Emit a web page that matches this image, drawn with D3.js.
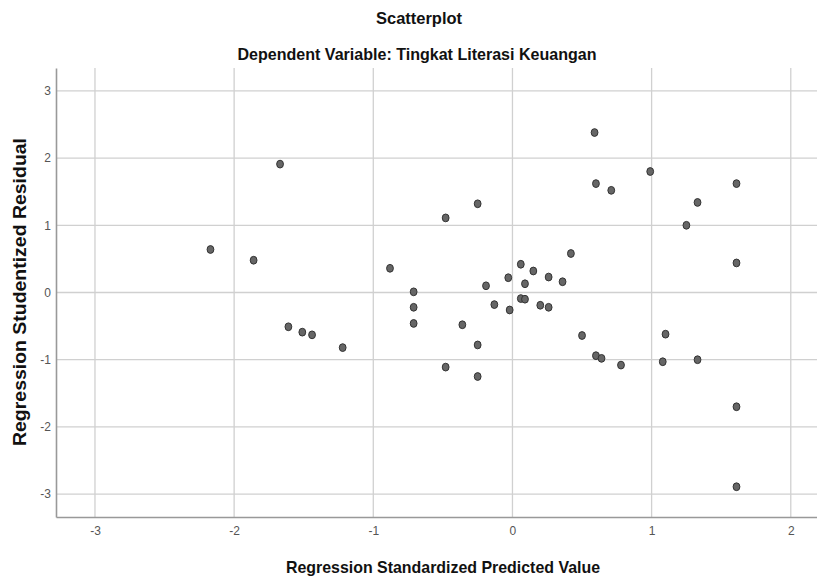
<!DOCTYPE html>
<html>
<head>
<meta charset="utf-8">
<script src="https://cdn.jsdelivr.net/npm/d3@7"></script>
<style>
  body { margin: 0; background: #fff; }
  svg { display: block; }
  .tick text { font-family: "Liberation Sans", Arial, sans-serif; font-size: 12px; fill: #555; }
  .ttl { font-family: "Liberation Sans", Arial, sans-serif; font-weight: bold; fill: #111; }
</style>
</head>
<body>
<svg width="817" height="578"></svg>
<script>
// predicted values (x) and studentized residuals (y)
const predicted = [
  -2.17, -1.86, -1.67, -1.61, -1.51, -1.44, -1.22,
  -0.25, -0.48, -0.88, -0.71, -0.71, -0.71, -0.19, -0.03, 0.06, 0.15, 0.09, 0.26, 0.36, 0.42,
  -0.13, -0.02, 0.06, 0.09, 0.20, 0.26,
  -0.36, -0.25, -0.48, -0.25,
  0.59, 0.60, 0.71, 0.99, 1.61, 1.33, 1.25, 1.61,
  0.50, 0.60, 0.64, 0.78, 1.10, 1.08, 1.33, 1.61, 1.61
]
const residual = [
  0.64, 0.48, 1.91, -0.51, -0.59, -0.63, -0.82,
  1.32, 1.11, 0.36, 0.01, -0.22, -0.46, 0.10, 0.22, 0.42, 0.32, 0.13, 0.23, 0.16, 0.58,
  -0.18, -0.26, -0.09, -0.10, -0.19, -0.22,
  -0.48, -0.78, -1.11, -1.25,
  2.38, 1.62, 1.52, 1.80, 1.62, 1.34, 1.00, 0.44,
  -0.64, -0.94, -0.98, -1.08, -0.62, -1.03, -1.00, -1.70, -2.89
]
const xTicks = [-3, -2, -1, 0, 1, 2]
const yTicks = [-3, -2, -1, 0, 1, 2, 3]

const title = 'Scatterplot'
const subtitle = 'Dependent Variable: Tingkat Literasi Keuangan'
const xTitle = 'Regression Standardized Predicted Value'
const yTitle = 'Regression Studentized Residual'

const svg = d3.select('svg')
const plotLeft = 56, plotRight = 820, plotTop = 68, plotBottom = 517

let x = d3.scaleLinear().domain([-3.28, 2.21]).range([plotLeft, plotRight])
let y = d3.scaleLinear().domain([-3.34, 3.34]).range([plotBottom, plotTop])

// gridlines
svg.append('g')
  .selectAll('line')
  .data(xTicks)
  .enter()
  .append('line')
  .attr('x1', d => x(d)).attr('x2', d => x(d))
  .attr('y1', plotTop).attr('y2', plotBottom)
  .attr('stroke', '#d0d0d0').attr('stroke-width', 1.3)

svg.append('g')
  .selectAll('line')
  .data(yTicks)
  .enter()
  .append('line')
  .attr('x1', plotLeft).attr('x2', plotRight)
  .attr('y1', d => y(d)).attr('y2', d => y(d))
  .attr('stroke', '#d0d0d0').attr('stroke-width', 1.3)

// axes (hyphen minus like the original)
let xAxis = svg.append('g')
  .attr('transform', `translate(0,${plotBottom})`)
  .call(d3.axisBottom(x).tickValues(xTicks).tickSize(0).tickPadding(9).tickFormat(d => String(d)))
xAxis.select('.domain').attr('stroke', '#999').attr('stroke-width', 1.6)

let yAxis = svg.append('g')
  .attr('transform', `translate(${plotLeft},0)`)
  .call(d3.axisLeft(y).tickValues(yTicks).tickSize(0).tickPadding(5).tickFormat(d => String(d)))
yAxis.select('.domain').attr('stroke', '#999').attr('stroke-width', 1.6)

// points
svg.append('g')
  .selectAll('ellipse')
  .data(predicted)
  .enter()
  .append('ellipse')
  .attr('cx', (d, i) => x(d))
  .attr('cy', (d, i) => y(residual[i]))
  .attr('rx', 3.4)
  .attr('ry', 3.9)
  .attr('fill', '#666')
  .attr('stroke', '#333')
  .attr('stroke-width', 1)

// titles
svg.append('text')
  .attr('class', 'ttl')
  .attr('x', 419).attr('y', 24)
  .attr('text-anchor', 'middle')
  .attr('textLength', 86).attr('lengthAdjust', 'spacingAndGlyphs')
  .style('font-size', '16px')
  .text(title)

svg.append('text')
  .attr('class', 'ttl')
  .attr('x', 417).attr('y', 60)
  .attr('text-anchor', 'middle')
  .attr('textLength', 359).attr('lengthAdjust', 'spacingAndGlyphs')
  .style('font-size', '16.5px')
  .text(subtitle)

svg.append('text')
  .attr('class', 'ttl')
  .attr('x', 443).attr('y', 573)
  .attr('text-anchor', 'middle')
  .attr('textLength', 314).attr('lengthAdjust', 'spacingAndGlyphs')
  .style('font-size', '17px')
  .text(xTitle)

svg.append('text')
  .attr('class', 'ttl')
  .attr('transform', 'translate(26,292) rotate(-90)')
  .attr('text-anchor', 'middle')
  .attr('textLength', 308).attr('lengthAdjust', 'spacingAndGlyphs')
  .style('font-size', '17.5px')
  .text(yTitle)
</script>
</body>
</html>
